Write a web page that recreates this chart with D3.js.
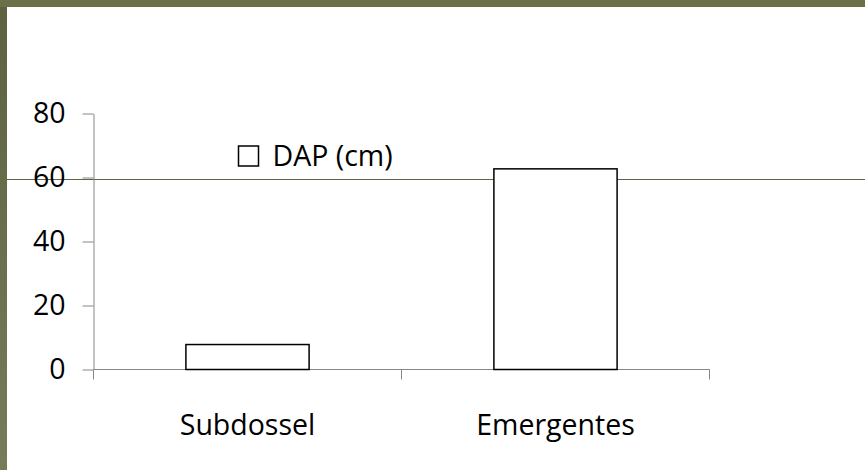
<!DOCTYPE html>
<html>
<head>
<meta charset="utf-8">
<script src="https://cdn.jsdelivr.net/npm/d3@7"></script>
<style>
  html, body { margin: 0; padding: 0; background: #fff; }
  svg { display: block; font-family: "Open Sans", sans-serif; }
</style>
</head>
<body>
<div id="chart"></div>
<script>
const categories = ["Subdossel", "Emergentes"];
const dapValues = [7.8, 62.7];
const yTicks = [0, 20, 40, 60, 80];
const seriesName = "DAP (cm)";

const width = 865, height = 470;
const plot = { left: 93.5, right: 709.5, top: 113.5, bottom: 369.5 };
const axisColor = "#868686";
const olive = "#6b7049";

const svg = d3.select("#chart").append("svg")
    .attr("width", width)
    .attr("height", height);

// slide frame: olive band on top and left, plus a rule across the slide
const grad = svg.append("defs").append("linearGradient")
    .attr("id", "leftBand")
    .attr("x1", 0).attr("y1", 0).attr("x2", 0).attr("y2", 1);
grad.append("stop").attr("offset", "0%").attr("stop-color", "#5d6140");
grad.append("stop").attr("offset", "100%").attr("stop-color", "#767b58");

svg.append("rect").attr("x", 0).attr("y", 0).attr("width", width).attr("height", height).attr("fill", "#fff");
svg.append("rect").attr("x", 0).attr("y", 0).attr("width", 7).attr("height", height).attr("fill", "url(#leftBand)");
svg.append("rect").attr("x", 0).attr("y", 0).attr("width", width).attr("height", 7).attr("fill", olive);
svg.append("line")
    .attr("x1", 7).attr("x2", width)
    .attr("y1", 179.5).attr("y2", 179.5)
    .attr("stroke", "#5f6342").attr("stroke-width", 1);

const x = d3.scaleBand()
    .domain(categories)
    .range([plot.left, plot.right])
    .paddingInner(0.6)
    .paddingOuter(0.3);

const y = d3.scaleLinear()
    .domain([0, 80])
    .range([plot.bottom, plot.top]);

// y axis
const yAxis = svg.append("g")
    .attr("transform", `translate(${plot.left},0)`)
    .call(d3.axisLeft(y).tickValues(yTicks).tickSize(11).tickSizeOuter(0).tickPadding(17));
yAxis.select(".domain").attr("stroke", axisColor);
yAxis.selectAll(".tick line").attr("stroke", axisColor);
yAxis.selectAll(".tick text")
    .attr("fill", "#000")
    .attr("font-size", "28.5px")
    .attr("font-family", "'Open Sans', sans-serif");

// x axis: labels at band centres, ticks at band boundaries
const xAxis = svg.append("g")
    .attr("transform", `translate(0,${plot.bottom})`)
    .call(d3.axisBottom(x).tickSize(0).tickPadding(45));
xAxis.select(".domain").remove();
xAxis.selectAll(".tick text")
    .attr("fill", "#000")
    .attr("font-size", "28.5px")
    .attr("font-family", "'Open Sans', sans-serif");
xAxis.append("line")
    .attr("x1", plot.left).attr("x2", plot.right)
    .attr("stroke", axisColor);
const bounds = d3.range(categories.length + 1).map(i => plot.left + i * x.step());
xAxis.selectAll(".bound").data(bounds).enter().append("line")
    .attr("class", "bound")
    .attr("x1", d => d).attr("x2", d => d)
    .attr("y1", 0).attr("y2", 10)
    .attr("stroke", axisColor);

// bars
svg.selectAll(".bar").data(categories).enter().append("rect")
    .attr("class", "bar")
    .attr("x", d => x(d))
    .attr("y", (d, i) => y(dapValues[i]))
    .attr("width", x.bandwidth())
    .attr("height", (d, i) => y(0) - y(dapValues[i]))
    .attr("fill", "#fff")
    .attr("stroke", "#000")
    .attr("stroke-width", 1.5);

// legend
const legend = svg.append("g").attr("transform", "translate(238.5,146)");
legend.append("rect")
    .attr("width", 20).attr("height", 20)
    .attr("fill", "#fff").attr("stroke", "#000").attr("stroke-width", 1.5);
legend.append("text")
    .attr("x", 34).attr("y", 20)
    .attr("font-size", "28.5px")
    .attr("fill", "#000")
    .text(seriesName);
</script>
</body>
</html>
